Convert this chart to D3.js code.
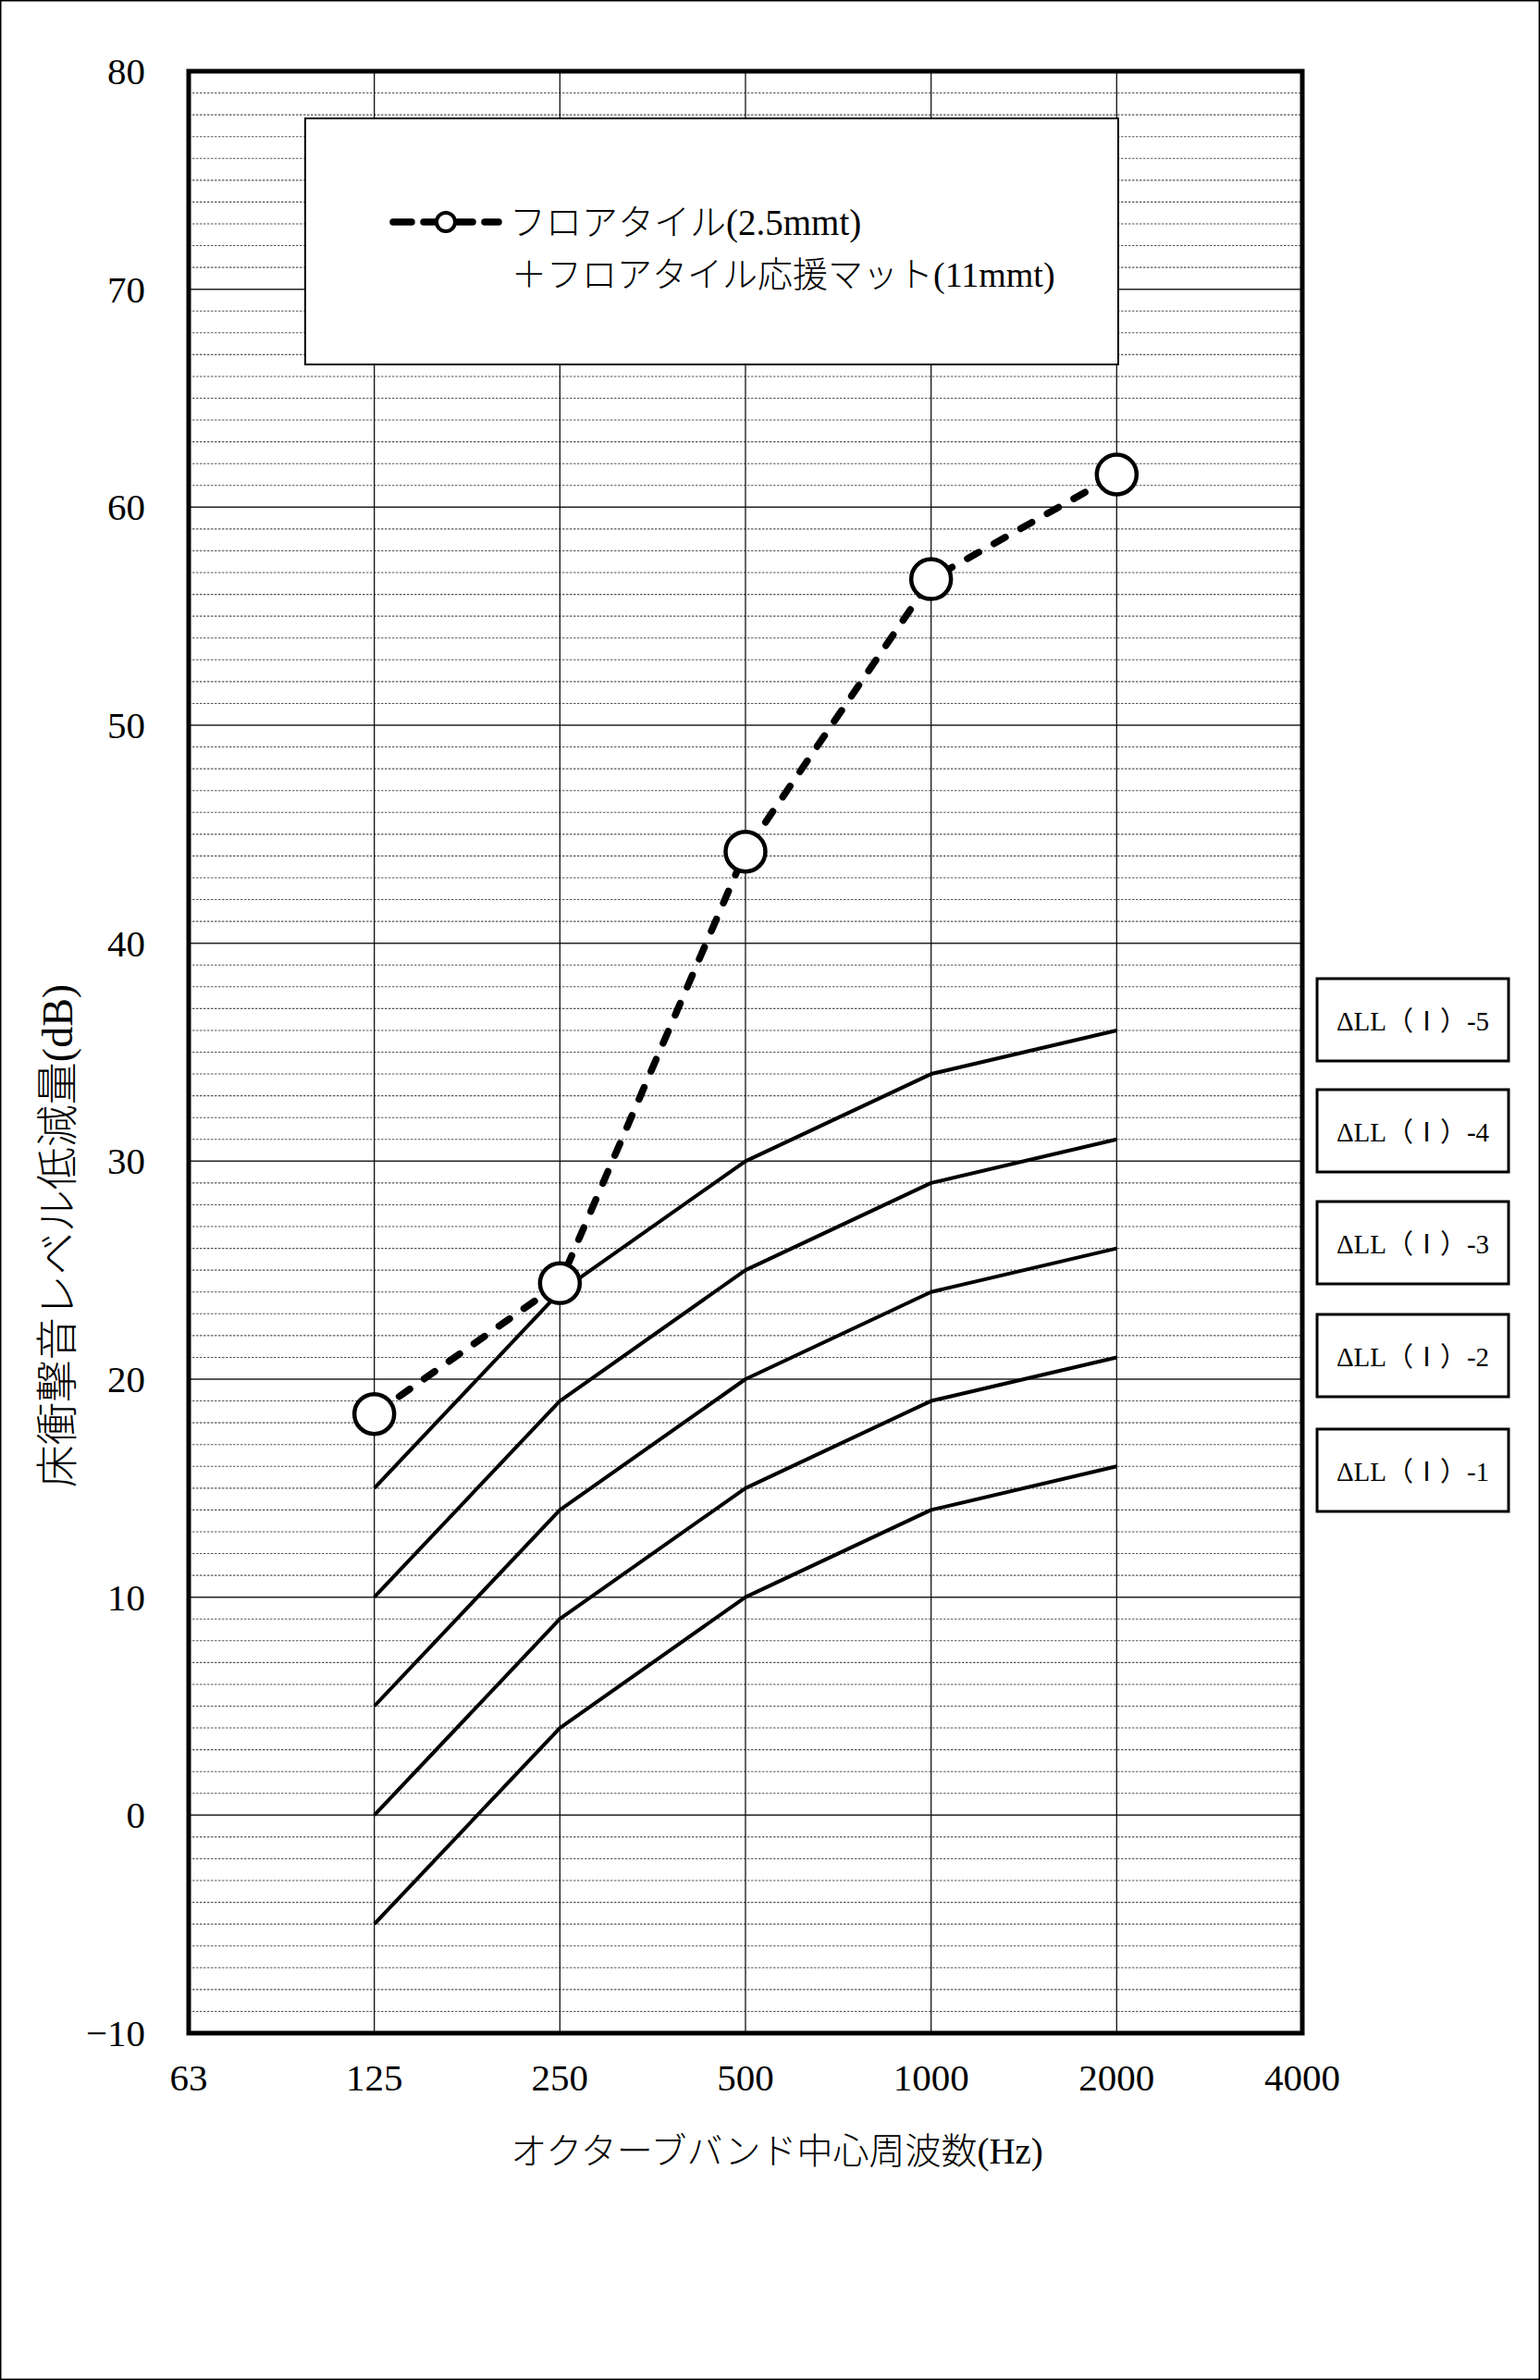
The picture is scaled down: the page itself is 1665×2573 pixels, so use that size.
<!DOCTYPE html>
<html><head><meta charset="utf-8">
<script src="https://cdn.jsdelivr.net/npm/d3@7"></script>
<style>body{margin:0;background:#fff}svg{display:block}</style>
</head><body><svg id="c" width="1665" height="2573"></svg>
<script>
// ---- data ----
const xLabels = ["63","125","250","500","1000","2000","4000"];
const bands = ["125","250","500","1000","2000"];
const measured = [18.4, 24.4, 44.2, 56.7, 61.5];
const grade5 = [15, 24, 30, 34, 36];
const grade4 = [10, 19, 25, 29, 31];
const grade3 = [5, 14, 20, 24, 26];
const grade2 = [0, 9, 15, 19, 21];
const grade1 = [-5, 4, 10, 14, 16];
const gradeNames = ["ΔLL（Ⅰ）-5","ΔLL（Ⅰ）-4","ΔLL（Ⅰ）-3","ΔLL（Ⅰ）-2","ΔLL（Ⅰ）-1"];
const yTicks = [-10,0,10,20,30,40,50,60,70,80];
const seriesName1 = "フロアタイル(2.5mmt)";
const seriesName2 = "＋フロアタイル応援マット(11mmt)";
const xTitle = "オクターブバンド中心周波数(Hz)";
const yTitle = "床衝撃音レベル低減量(dB)";

const SERIF = "'Liberation Serif','Noto Sans CJK JP',serif";

const L = 204, R = 1408, T = 77, B = 2198;
const svg = d3.select("#c");
svg.append("rect").attr("x",0.75).attr("y",0.75).attr("width",1663.5).attr("height",2571.5)
  .attr("fill","#fff").attr("stroke","#000").attr("stroke-width",1.5);

const x = d3.scalePoint().domain(xLabels).range([L, R]);
const y = d3.scaleLinear().domain([-10, 80]).range([B, T]);

const g = svg.append("g");
// minor grid
const minor = d3.range(-9, 80).filter(v => v % 10 !== 0);
g.selectAll(".mn").data(minor).join("line")
  .attr("x1", L).attr("x2", R).attr("y1", d => y(d)).attr("y2", d => y(d))
  .attr("stroke", "#555").attr("stroke-width", 1.1).attr("stroke-dasharray", "2.5,1.5");
// major grid
g.selectAll(".mj").data(yTicks.filter(v => v > -10 && v < 80)).join("line")
  .attr("x1", L).attr("x2", R).attr("y1", d => y(d)).attr("y2", d => y(d))
  .attr("stroke", "#222").attr("stroke-width", 1.5);
// vertical grid
g.selectAll(".vg").data(xLabels.slice(1, -1)).join("line")
  .attr("x1", d => x(d)).attr("x2", d => x(d)).attr("y1", T).attr("y2", B)
  .attr("stroke", "#111").attr("stroke-width", 1.3);

// legend box (top)
svg.append("rect").attr("x", 330).attr("y", 128).attr("width", 879).attr("height", 266)
  .attr("fill", "#fff").attr("stroke", "#000").attr("stroke-width", 2);

// frame
svg.append("rect").attr("x", L).attr("y", T).attr("width", R - L).attr("height", B - T)
  .attr("fill", "none").attr("stroke", "#000").attr("stroke-width", 5);

// axes labels
svg.append("g").selectAll("text").data(yTicks).join("text")
  .attr("x", 157).attr("y", d => y(d)).attr("text-anchor", "end")
  .attr("dominant-baseline", "central")
  .attr("font-family", SERIF).attr("font-size", 41).text(d => d === -10 ? "−10" : d);
svg.append("g").selectAll("text").data(xLabels).join("text")
  .attr("x", d => x(d)).attr("y", 2246).attr("text-anchor", "middle")
  .attr("dominant-baseline", "central")
  .attr("font-family", SERIF).attr("font-size", 41).text(d => d);

svg.append("text").attr("x", (L + R) / 2 + 34).attr("y", 2325)
  .attr("text-anchor", "middle").attr("dominant-baseline", "central")
  .attr("font-family", SERIF).attr("font-weight", 300).attr("font-size", 39).text(xTitle);
svg.append("text").attr("transform", "translate(62,1336) rotate(-90)")
  .attr("text-anchor", "middle").attr("dominant-baseline", "central")
  .attr("font-family", SERIF).attr("font-weight", 300).attr("font-size", 46).text(yTitle);

// reference grade curves
const line = d3.line().x((d, i) => x(bands[i])).y(d => y(d));
const grades = [grade5, grade4, grade3, grade2, grade1];
svg.append("g").selectAll("path").data(grades).join("path")
  .attr("d", d => line(d)).attr("fill", "none").attr("stroke", "#000")
  .attr("stroke-width", 4).attr("stroke-linejoin", "round");

// measured series
svg.append("path").attr("d", line(measured)).attr("fill", "none")
  .attr("stroke", "#000").attr("stroke-width", 7.5).attr("stroke-linecap", "round")
  .attr("stroke-dasharray", "14,19");
svg.append("g").selectAll("circle").data(measured).join("circle")
  .attr("cx", (d, i) => x(bands[i])).attr("cy", d => y(d)).attr("r", 21.5)
  .attr("fill", "#fff").attr("stroke", "#000").attr("stroke-width", 4.5);

// legend entry
const lg = svg.append("g");
lg.append("line").attr("x1", 425).attr("x2", 539).attr("y1", 240).attr("y2", 240)
  .attr("stroke", "#000").attr("stroke-width", 7.5).attr("stroke-linecap", "round")
  .attr("stroke-dasharray", "20,13");
lg.append("circle").attr("cx", 482).attr("cy", 240).attr("r", 10)
  .attr("fill", "#fff").attr("stroke", "#000").attr("stroke-width", 4);
lg.append("text").attr("x", 551).attr("y", 240).attr("dominant-baseline", "central")
  .attr("font-family", SERIF).attr("font-weight", 300).attr("font-size", 39).text(seriesName1);
lg.append("text").attr("x", 553).attr("y", 297).attr("dominant-baseline", "central")
  .attr("font-family", SERIF).attr("font-weight", 300).attr("font-size", 38).text(seriesName2);

// grade boxes
const boxTop = [1058, 1178, 1299, 1421, 1545];
const bg = svg.append("g").selectAll("g").data(gradeNames).join("g")
  .attr("transform", (d, i) => `translate(1424,${boxTop[i]})`);
bg.append("rect").attr("width", 207).attr("height", 89).attr("fill", "#fff")
  .attr("stroke", "#000").attr("stroke-width", 3);
bg.append("text").attr("x", 103.5).attr("y", 46).attr("text-anchor", "middle")
  .attr("dominant-baseline", "central").attr("font-family", SERIF)
  .attr("font-size", 29).text(d => d);
</script></body></html>
